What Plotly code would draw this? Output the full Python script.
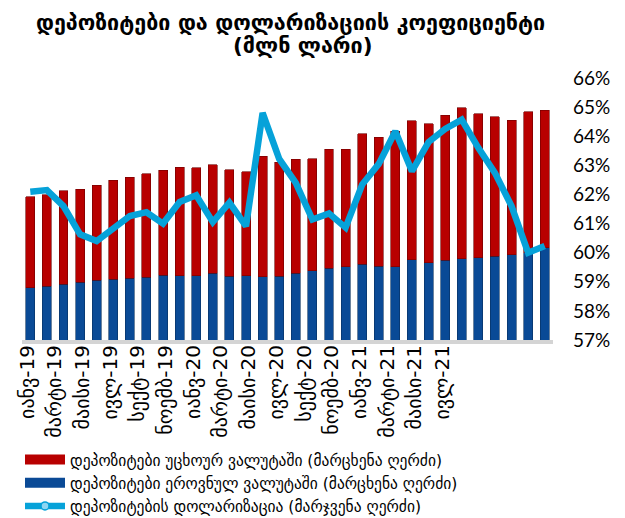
import plotly.graph_objects as go

months = [
    "იანვ-19", "თებ-19", "მარტი-19", "აპრ-19", "მაისი-19", "ივნ-19", "ივლ-19", "აგვ-19",
    "სექტ-19", "ოქტ-19", "ნოემბ-19", "დეკ-19",
    "იანვ-20", "თებ-20", "მარტი-20", "აპრ-20", "მაისი-20", "ივნ-20", "ივლ-20", "აგვ-20",
    "სექტ-20", "ოქტ-20", "ნოემბ-20", "დეკ-20",
    "იანვ-21", "თებ-21", "მარტი-21", "აპრ-21", "მაისი-21", "ივნ-21", "ივლ-21", "აგვ-21",
]

tick_labels = [
    "იანვ-19", "მარტი-19", "მაისი-19", "ივლ-19", "სექტ-19", "ნოემბ-19",
    "იანვ-20", "მარტი-20", "მაისი-20", "ივლ-20", "სექტ-20", "ნოემბ-20",
    "იანვ-21", "მარტი-21", "მაისი-21", "ივლ-21",
]

# deposits in national currency (million GEL)
national = [6409, 6581, 6826, 7071, 7316, 7439, 7561, 7635, 7880, 7843, 7843, 8125,
            7806, 7843, 7721, 7806, 8125, 8456, 8787, 8946, 9277, 8983, 8946, 9829,
            9461, 9742, 9902, 10073, 10233, 10441, 10660, 11270]

# deposits in foreign currency (million GEL)
foreign = [11116, 11152, 11434, 11312, 11594, 12046, 12329, 12672, 12868, 13236, 13199, 13285,
           12991, 12709, 14743, 13922, 13971, 13664, 14534, 14375, 15932, 15809, 16544, 16924,
           16973, 17709, 18493, 17587, 17010, 16397, 17196, 16794]

# dollarization (%)
dollarization = [62.09, 62.15, 61.60, 60.63, 60.40, 60.86, 61.26, 61.39, 61.00, 61.74, 61.97, 61.05,
                 61.72, 60.91, 64.80, 63.22, 62.40, 61.14, 61.35, 60.86, 62.34, 63.05, 64.17, 62.80,
                 63.80, 64.25, 64.57, 63.60, 62.74, 61.60, 60.00, 60.23]

names = [
    "დეპოზიტები უცხოურ ვალუტაში (მარცხენა ღერძი)",
    "დეპოზიტები ეროვნულ ვალუტაში (მარცხენა ღერძი)",
    "დეპოზიტების დოლარიზაცია (მარჯვენა ღერძი)",
]
title_line1 = "დეპოზიტები და დოლარიზაციის კოეფიციენტი"
title_line2 = "(მლნ ლარი)"

GEO = "DejaVu Sans"
RED = "#B80000"
BLUE = "#0A4A96"
CYAN = "#06A2D9"

W, H = 625, 518
ml, mr, mt, mb = 22, 72, 78, 178
plot_w = W - ml - mr

# the category tick labels are spaced tighter than the bars
lab_first_px, lab_step_px = 27.0, 27.7
x2_lo = (ml - lab_first_px) / lab_step_px
x2_range = [x2_lo, x2_lo + plot_w / lab_step_px]

fig = go.Figure()
fig.add_trace(go.Bar(
    x=months, y=national, name=names[1], showlegend=False,
    marker=dict(color=BLUE, line=dict(color="#06305f", width=0.6)),
))
fig.add_trace(go.Bar(
    x=months, y=foreign, name=names[0], showlegend=False,
    marker=dict(color=RED, line=dict(color="#6e0000", width=0.6)),
))
fig.add_trace(go.Scatter(
    x=months, y=[v / 100 for v in dollarization], name=names[2], showlegend=False,
    yaxis="y2", mode="lines",
    line=dict(color=CYAN, width=6.5),
))
# legend entries (wide swatches like the reference)
fig.add_trace(go.Scatter(x=[None], y=[None], mode="lines", name=names[0],
                         line=dict(color=RED, width=10), legendrank=1))
fig.add_trace(go.Scatter(x=[None], y=[None], mode="lines", name=names[1],
                         line=dict(color=BLUE, width=10), legendrank=2))
fig.add_trace(go.Scatter(x=[None], y=[None], mode="lines+markers", name=names[2],
                         line=dict(color=CYAN, width=6.5),
                         marker=dict(color="#8fd6f2", size=8, line=dict(color=CYAN, width=1.5)),
                         legendrank=3))
# carrier trace for the tick-label axis
fig.add_trace(go.Scatter(
    x=list(range(len(tick_labels))), y=[None] * len(tick_labels),
    xaxis="x2", yaxis="y", mode="markers", showlegend=False, hoverinfo="skip",
))

fig.update_layout(
    width=W, height=H,
    template="none",
    paper_bgcolor="white", plot_bgcolor="white",
    margin=dict(l=ml, r=mr, t=mt, b=mb, autoexpand=False),
    barmode="stack", bargap=0.46,
    showlegend=True,
    annotations=[
        dict(text=title_line1, xref="paper", yref="paper",
             x=(290 - ml) / plot_w, y=1 + (78 - 22) / (H - mt - mb),
             xanchor="center", yanchor="middle", showarrow=False,
             font=dict(family=GEO, size=21.5, color="black", weight="bold")),
        dict(text=title_line2, xref="paper", yref="paper",
             x=(303 - ml) / plot_w, y=1 + (78 - 45) / (H - mt - mb),
             xanchor="center", yanchor="middle", showarrow=False,
             font=dict(family=GEO, size=21.5, color="black", weight="bold")),
    ],
    xaxis=dict(
        type="category", categoryorder="array", categoryarray=months,
        range=[-0.5, len(months) - 0.5],
        showticklabels=False, ticks="", showgrid=False, zeroline=False,
        showline=True, linecolor="#D4D4D4", linewidth=4,
        automargin=False,
    ),
    xaxis2=dict(
        overlaying="x", anchor="y", side="bottom", type="linear",
        range=x2_range, tickmode="array",
        tickvals=list(range(len(tick_labels))), ticktext=tick_labels,
        tickangle=-90, ticks="", showgrid=False, zeroline=False, showline=False,
        ticklabelstandoff=0,
        tickfont=dict(family=GEO, size=20, color="black"),
        automargin=False,
    ),
    yaxis=dict(
        range=[0, 32000], dtick=5000, showgrid=False, zeroline=False,
        showline=False, ticks="", showticklabels=False,
        automargin=False,
    ),
    yaxis2=dict(
        overlaying="y", side="right", range=[0.57, 0.66], dtick=0.01,
        tickformat=".0%", showgrid=False, zeroline=False, showline=False, ticks="",
        tickfont=dict(family="Lato", size=19, color="black"),
        ticklabelstandoff=19,
        automargin=False,
    ),
    legend=dict(
        xref="container", yref="container",
        x=20 / W, xanchor="left",
        y=1 - 443 / H, yanchor="top",
        traceorder="normal",
        itemwidth=40,
        bgcolor="rgba(0,0,0,0)",
        font=dict(family=GEO, size=15.5, color="black"),
        tracegroupgap=0,
    ),
)

fig.write_html("out.html", config={"displayModeBar": False},
               post_script="document.body.style.margin='0';")
